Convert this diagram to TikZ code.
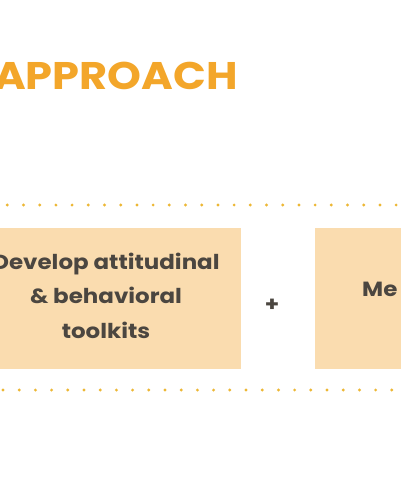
\documentclass[tikz,border=0pt]{standalone}
\usepackage{fontspec}
\setmainfont{Poppins}
\newfontfamily\widefont[FakeStretch=1.12]{Poppins}
\definecolor{titleorange}{HTML}{F3A62A}
\definecolor{boxfill}{HTML}{FADCAF}
\definecolor{dotgold}{HTML}{EDB734}
\definecolor{textgray}{HTML}{4B4640}
\begin{document}
\begin{tikzpicture}[x=1pt,y=-1pt,
  panel/.style={fill=boxfill,draw=none},
  boxtext/.style={text=textgray,inner sep=0,font=\widefont\fontsize{20.5}{34.5}\selectfont\bfseries,align=center},
  dotmark/.style={fill=dotgold,draw=none}]
\useasboundingbox (0,0) rectangle (400,484);
\fill[white] (0,0) rectangle (400,484);
\node[anchor=base west,inner sep=0,text=titleorange,font=\widefont\fontsize{38.5}{44}\selectfont\bfseries] (title) at (-6,90) {APPROACH};
\foreach \i in {0,...,24} {
  \fill[dotmark] (7.3+16.2*\i,205) circle (1.6);
  \fill[dotmark] (3+16.2*\i,390) circle (1.6);
}
\fill[panel] (-2,228) rectangle (241,369);
\fill[panel] (315,228) rectangle (410,369);
\node[boxtext,anchor=base] (left) at (106,338) {Develop attitudinal\\\& behavioral\\toolkits};
\node[boxtext] (plus) at (272,305) {+};
\node[boxtext,anchor=base west] (right) at (362,296) {Me};
\end{tikzpicture}
\end{document}
